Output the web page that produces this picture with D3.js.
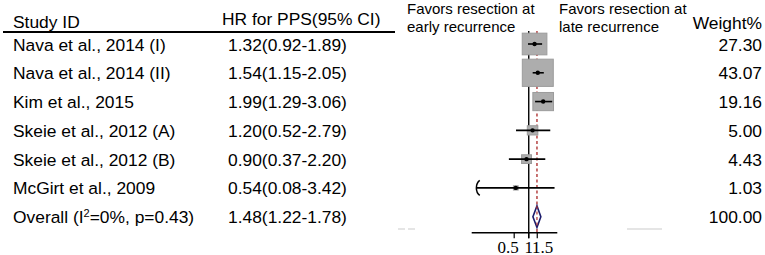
<!DOCTYPE html>
<html>
<head>
<meta charset="utf-8">
<script src="https://cdn.jsdelivr.net/npm/d3@7/dist/d3.min.js"></script>
<style>
  html, body { margin: 0; padding: 0; background: #fff; }
  svg { display: block; }
  .sans { font-family: "Liberation Sans", Arial, Helvetica, sans-serif; }
  .serif { font-family: "Liberation Serif", "Times New Roman", serif; }
</style>
</head>
<body>
<svg id="chart" width="765" height="255"></svg>
<script>
// ---- data ----
const studies = ["Nava et al., 2014 (I)", "Nava et al., 2014 (II)", "Kim et al., 2015",
                 "Skeie et al., 2012 (A)", "Skeie et al., 2012 (B)", "McGirt et al., 2009"];
const hr      = [1.32, 1.54, 1.99, 1.20, 0.90, 0.54];
const ciLow   = [0.92, 1.15, 1.29, 0.52, 0.37, 0.08];
const ciHigh  = [1.89, 2.05, 3.06, 2.79, 2.20, 3.42];
const weights = [27.30, 43.07, 19.16, 5.00, 4.43, 1.03];
const overallHR = 1.48, overallLow = 1.22, overallHigh = 1.78, overallWeight = 100.00;
const xTicks = [0.5, 1, 1.5];
const xTickLabels = ["0.5", "1", "1.5"];
const xDomain = [0.066, 3.9];

// ---- layout ----
const svg = d3.select("#chart");
const x = d3.scaleLog().domain(xDomain).range([471.7, 557.3]);
const y = d3.scaleLinear().domain([0, studies.length]).range([44, 216.7]);
const axisY = 232.7;
const topY = 31;
const fs = 17.4;

// background artifacts (faint lines)
svg.append("line").attr("x1", 398).attr("x2", 405).attr("y1", 229).attr("y2", 229)
  .attr("stroke", "#dcdcdc").attr("stroke-width", 1.5);
svg.append("line").attr("x1", 408).attr("x2", 415).attr("y1", 229).attr("y2", 229)
  .attr("stroke", "#dcdcdc").attr("stroke-width", 1.5);
svg.append("line").attr("x1", 627).attr("x2", 662).attr("y1", 229).attr("y2", 229)
  .attr("stroke", "#dcdcdc").attr("stroke-width", 1.5);

// headers
svg.append("text").attr("class", "sans").attr("x", 13).attr("y", 28)
  .attr("font-size", fs).text("Study ID");
svg.append("text").attr("class", "sans").attr("x", 222).attr("y", 25)
  .attr("font-size", fs).text("HR for PPS(95% CI)");
svg.append("line").attr("x1", 3).attr("x2", 395).attr("y1", 32).attr("y2", 32)
  .attr("stroke", "#000").attr("stroke-width", 1.8);
svg.append("text").attr("class", "sans").attr("x", 762).attr("y", 29)
  .attr("font-size", fs).attr("text-anchor", "end").text("Weight%");

const fav = [[407, ["Favors resection at", "early recurrence"]],
             [559, ["Favors resection at", "late recurrence"]]];
fav.forEach(([fx, lines]) => {
  lines.forEach((l, i) => {
    svg.append("text").attr("class", "sans").attr("x", fx).attr("y", 14 + i * 17.5)
      .attr("font-size", 15).text(l);
  });
});

// row texts
const fmt = d3.format(".2f");
studies.forEach((s, i) => {
  const by = y(i) + 6.5;
  svg.append("text").attr("class", "sans").attr("x", 13).attr("y", by)
    .attr("font-size", fs).text(s);
  svg.append("text").attr("class", "sans").attr("x", 228).attr("y", by)
    .attr("font-size", fs).text(fmt(hr[i]) + "(" + fmt(ciLow[i]) + "-" + fmt(ciHigh[i]) + ")");
  svg.append("text").attr("class", "sans").attr("x", 762).attr("y", by)
    .attr("font-size", fs).attr("text-anchor", "end").text(fmt(weights[i]));
});
const oy = y(studies.length) + 6.5;
const ot = svg.append("text").attr("class", "sans").attr("x", 13).attr("y", oy).attr("font-size", fs);
ot.append("tspan").text("Overall (I");
ot.append("tspan").attr("font-size", 11).attr("dy", -6).text("2");
ot.append("tspan").attr("dy", 6).text("=0%, p=0.43)");
svg.append("text").attr("class", "sans").attr("x", 228).attr("y", oy)
  .attr("font-size", fs).text(fmt(overallHR) + "(" + fmt(overallLow) + "-" + fmt(overallHigh) + ")");
svg.append("text").attr("class", "sans").attr("x", 762).attr("y", oy)
  .attr("font-size", fs).attr("text-anchor", "end").text(fmt(overallWeight));

// reference lines
svg.append("line").attr("x1", x(1)).attr("x2", x(1)).attr("y1", topY).attr("y2", axisY + 5.5)
  .attr("stroke", "#000").attr("stroke-width", 1.4);
svg.append("line").attr("x1", x(overallHR)).attr("x2", x(overallHR)).attr("y1", topY).attr("y2", axisY)
  .attr("stroke", "#b03535").attr("stroke-width", 1.4).attr("stroke-dasharray", "3,2.5");

// axis
svg.append("line").attr("x1", x.range()[0]).attr("x2", x.range()[1]).attr("y1", axisY).attr("y2", axisY)
  .attr("stroke", "#000").attr("stroke-width", 1.4);
const labelShift = [-6, 0, 5.5];
xTicks.forEach((t, i) => {
  svg.append("line").attr("x1", x(t)).attr("x2", x(t)).attr("y1", axisY).attr("y2", axisY + 5.5)
    .attr("stroke", "#000").attr("stroke-width", 1.2);
  svg.append("text").attr("class", "serif").attr("x", x(t) + labelShift[i]).attr("y", 252.5)
    .attr("font-size", 17).attr("text-anchor", "middle").text(xTickLabels[i]);
});

// boxes
studies.forEach((s, i) => {
  const w = 4.72 * Math.sqrt(weights[i]);
  const h = 4.15 * Math.sqrt(weights[i]);
  svg.append("rect").attr("x", x(hr[i]) - w / 2).attr("y", y(i) - h / 2)
    .attr("width", w).attr("height", h)
    .attr("fill", "#adadad").attr("stroke", "#9c9c9c").attr("stroke-width", 1);
});

// CIs and points
studies.forEach((s, i) => {
  const lo = Math.max(ciLow[i], xDomain[0]);
  svg.append("line").attr("x1", x(lo) + 1).attr("x2", x(ciHigh[i])).attr("y1", y(i)).attr("y2", y(i))
    .attr("stroke", "#000").attr("stroke-width", 1.6);
  svg.append("circle").attr("cx", x(hr[i])).attr("cy", y(i)).attr("r", 2.2).attr("fill", "#000");
});
// truncation bracket for the McGirt lower bound
{
  const i = 5;
  const ex = x(ciLow[i]) + 1, ey = y(i);
  svg.append("path")
    .attr("d", `M${ex + 3},${ey - 7.5} C${ex - 1.5},${ey - 4} ${ex - 1.5},${ey + 4} ${ex + 3},${ey + 7.5}`)
    .attr("fill", "none").attr("stroke", "#000").attr("stroke-width", 1.5);
}

// overall diamond
{
  const cy = y(studies.length), hh = 10.8;
  svg.append("path")
    .attr("d", `M${x(overallLow)},${cy} L${x(overallHR)},${cy - hh} L${x(overallHigh)},${cy} L${x(overallHR)},${cy + hh} Z`)
    .attr("fill", "#fff").attr("stroke", "#1c1c6c").attr("stroke-width", 1.6);
  svg.append("line").attr("x1", x(overallHR)).attr("x2", x(overallHR)).attr("y1", cy - hh).attr("y2", cy + hh)
    .attr("stroke", "#b03535").attr("stroke-width", 1.2).attr("stroke-dasharray", "3,2.5");
}
</script>
</body>
</html>
